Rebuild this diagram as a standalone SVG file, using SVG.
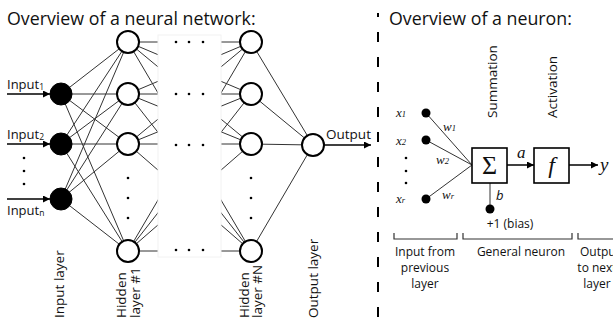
<svg xmlns="http://www.w3.org/2000/svg" width="613" height="323" viewBox="0 0 613 323">
<defs>
<marker id="ah" viewBox="0 0 10 10" refX="10" refY="5" markerWidth="8" markerHeight="7" markerUnits="userSpaceOnUse" orient="auto">
<path d="M0,0 L10,5 L0,10 z" fill="#000"/>
</marker>
<style>
.sans{font-family:"Open Sans","DejaVu Sans",sans-serif;fill:#111}
.serif{font-family:"Liberation Serif","Times New Roman",serif;font-style:italic;fill:#111}
.conn{stroke:#333;stroke-width:1;fill:none}
.hid{fill:#fff;stroke:#000;stroke-width:2}
.inp{fill:#000;stroke:#000;stroke-width:1}
.dot{fill:#000}
.arr{stroke:#000;stroke-width:1.5;fill:none;marker-end:url(#ah)}
.box{fill:#fff;stroke:#000;stroke-width:1.6}
.brk{stroke:#333;stroke-width:1.2;fill:none}
</style>
</defs>
<rect width="613" height="323" fill="#fff"/>

<text class="sans" x="7" y="25" font-size="17.8">Overview of a neural network:</text>
<text class="sans" x="389" y="25" font-size="17.8">Overview of a neuron:</text>

<line x1="378" y1="13" x2="378" y2="323" stroke="#000" stroke-width="2" stroke-dasharray="10 15" stroke-dashoffset="6"/>

<g id="connectors">
<g class="conn">
<line x1="61" y1="94" x2="128" y2="42"/><line x1="61" y1="94" x2="128" y2="94"/><line x1="61" y1="94" x2="128" y2="144"/><line x1="61" y1="94" x2="128" y2="251"/>
<line x1="61" y1="144" x2="128" y2="42"/><line x1="61" y1="144" x2="128" y2="94"/><line x1="61" y1="144" x2="128" y2="144"/><line x1="61" y1="144" x2="128" y2="251"/>
<line x1="61" y1="199" x2="128" y2="42"/><line x1="61" y1="199" x2="128" y2="94"/><line x1="61" y1="199" x2="128" y2="144"/><line x1="61" y1="199" x2="128" y2="251"/>
<line x1="128" y1="42" x2="251" y2="42"/><line x1="128" y1="42" x2="251" y2="94"/><line x1="128" y1="42" x2="251" y2="144"/><line x1="128" y1="42" x2="251" y2="251"/>
<line x1="128" y1="94" x2="251" y2="42"/><line x1="128" y1="94" x2="251" y2="94"/><line x1="128" y1="94" x2="251" y2="144"/><line x1="128" y1="94" x2="251" y2="251"/>
<line x1="128" y1="144" x2="251" y2="42"/><line x1="128" y1="144" x2="251" y2="94"/><line x1="128" y1="144" x2="251" y2="144"/><line x1="128" y1="144" x2="251" y2="251"/>
<line x1="128" y1="251" x2="251" y2="42"/><line x1="128" y1="251" x2="251" y2="94"/><line x1="128" y1="251" x2="251" y2="144"/><line x1="128" y1="251" x2="251" y2="251"/>
<line x1="251" y1="42" x2="313" y2="145"/><line x1="251" y1="94" x2="313" y2="145"/><line x1="251" y1="144" x2="313" y2="145"/><line x1="251" y1="251" x2="313" y2="145"/>
</g>
<rect x="158" y="35" width="63" height="222" fill="#fff" stroke="#f2f2f2" stroke-width="1"/>
<line class="arr" x1="7" y1="94" x2="50" y2="94"/>
<line class="arr" x1="7" y1="144" x2="50" y2="144"/>
<line class="arr" x1="7" y1="199" x2="50" y2="199"/>
<line class="arr" x1="324" y1="145" x2="371" y2="145"/>
<line class="conn" x1="426" y1="113" x2="472" y2="165"/>
<line class="conn" x1="426" y1="140" x2="472" y2="165"/>
<line class="conn" x1="426" y1="199" x2="472" y2="165"/>
<line class="conn" x1="490" y1="183" x2="490" y2="208"/>
<line class="arr" x1="507" y1="165" x2="534" y2="165"/>
<line class="arr" x1="569" y1="165" x2="598" y2="165"/>
</g>

<g id="gap-dots" class="dot">
<circle cx="176" cy="42" r="1.3"/><circle cx="189" cy="42" r="1.3"/><circle cx="203" cy="42" r="1.3"/>
<circle cx="176" cy="94" r="1.3"/><circle cx="189" cy="94" r="1.3"/><circle cx="203" cy="94" r="1.3"/>
<circle cx="176" cy="145" r="1.3"/><circle cx="189" cy="145" r="1.3"/><circle cx="203" cy="145" r="1.3"/>
<circle cx="176" cy="250" r="1.3"/><circle cx="189" cy="250" r="1.3"/><circle cx="203" cy="250" r="1.3"/>
<circle cx="128" cy="178" r="1.3"/><circle cx="128" cy="198" r="1.3"/><circle cx="128" cy="218" r="1.3"/>
<circle cx="251" cy="178" r="1.3"/><circle cx="251" cy="198" r="1.3"/><circle cx="251" cy="218" r="1.3"/>
<circle cx="24" cy="158" r="1.3"/><circle cx="24" cy="171" r="1.3"/><circle cx="24" cy="184" r="1.3"/>
<circle cx="406" cy="158" r="1.3"/><circle cx="406" cy="171" r="1.3"/><circle cx="406" cy="183" r="1.3"/>
</g>

<g id="input1"><circle class="inp" cx="61" cy="94" r="11"/><text class="sans" x="7" y="89" font-size="13">Input<tspan font-size="8.5" dy="0.5">1</tspan></text></g>
<g id="input2"><circle class="inp" cx="61" cy="144" r="11"/><text class="sans" x="7" y="139" font-size="13">Input<tspan font-size="8.5" dy="0.5">2</tspan></text></g>
<g id="inputn"><circle class="inp" cx="61" cy="199" r="11"/><text class="sans" x="7" y="215" font-size="13">Input<tspan font-size="8.5" dy="0.5">n</tspan></text></g>

<g id="h1a"><circle class="hid" cx="128" cy="42" r="11"/></g>
<g id="h1b"><circle class="hid" cx="128" cy="94" r="11"/></g>
<g id="h1c"><circle class="hid" cx="128" cy="144" r="11"/></g>
<g id="h1d"><circle class="hid" cx="128" cy="251" r="11"/></g>
<g id="hNa"><circle class="hid" cx="251" cy="42" r="11"/></g>
<g id="hNb"><circle class="hid" cx="251" cy="94" r="11"/></g>
<g id="hNc"><circle class="hid" cx="251" cy="144" r="11"/></g>
<g id="hNd"><circle class="hid" cx="251" cy="251" r="11"/></g>
<g id="out"><circle class="hid" cx="313" cy="145" r="11"/><text class="sans" x="326" y="139" font-size="13.5">Output</text></g>

<g id="layer-labels" class="sans" font-size="13.5">
<text transform="translate(64,318) rotate(-90)">Input layer</text>
<text transform="translate(126,318) rotate(-90)">Hidden</text>
<text transform="translate(140,318) rotate(-90)">layer #1</text>
<text transform="translate(249,318) rotate(-90)">Hidden</text>
<text transform="translate(262,318) rotate(-90)">layer #N</text>
<text transform="translate(318,318) rotate(-90)">Output layer</text>
</g>

<g id="neuron-inputs">
<circle class="dot" cx="426" cy="113" r="4.5"/>
<circle class="dot" cx="426" cy="140" r="4.5"/>
<circle class="dot" cx="426" cy="199" r="4.5"/>
<text class="serif" x="396" y="117" font-size="13">x<tspan font-size="8.5">1</tspan></text>
<text class="serif" x="396" y="145" font-size="13">x<tspan font-size="8.5">2</tspan></text>
<text class="serif" x="396" y="203" font-size="13">x<tspan font-size="8.5">r</tspan></text>
<text class="serif" x="443" y="131" font-size="13">w<tspan font-size="8.5">1</tspan></text>
<text class="serif" x="436" y="164" font-size="13">w<tspan font-size="8.5">2</tspan></text>
<text class="serif" x="442" y="199" font-size="13">w<tspan font-size="8.5">r</tspan></text>
</g>

<g id="summation">
<rect class="box" x="472" y="148" width="35" height="35"/>
<text x="489.5" y="174" font-size="26" text-anchor="middle" font-family="Liberation Serif, serif" fill="#111">Σ</text>
<text class="sans" transform="translate(497,118) rotate(-90)" font-size="13.5">Summation</text>
</g>
<g id="activation">
<rect class="box" x="534" y="148" width="35" height="35"/>
<text class="serif" x="551.5" y="173" font-size="24" text-anchor="middle">f</text>
<text class="sans" transform="translate(557,118) rotate(-90)" font-size="13.5">Activation</text>
</g>
<g id="bias">
<circle class="dot" cx="490" cy="209" r="4.5"/>
<text class="sans" x="496" y="200" font-size="13" font-style="italic">b</text>
<text class="sans" x="510" y="228" font-size="12" text-anchor="middle">+1 (bias)</text>
</g>
<text class="serif" x="517" y="158" font-size="17">a</text>
<text class="serif" x="600" y="171" font-size="19">y</text>

<g id="brackets">
<path class="brk" d="M394,233 v6 h63 v-6"/>
<path class="brk" d="M463,233 v6 h109 v-6"/>
<path class="brk" d="M578,233 v6 h40"/>
<g class="sans" font-size="12" text-anchor="middle">
<text x="425" y="256">Input from</text>
<text x="425" y="272">previous</text>
<text x="425" y="288">layer</text>
<text x="521" y="256">General neuron</text>
<text x="600" y="256">Output</text>
<text x="597" y="272">to next</text>
<text x="597" y="288">layer</text>
</g>
</g>
</svg>
